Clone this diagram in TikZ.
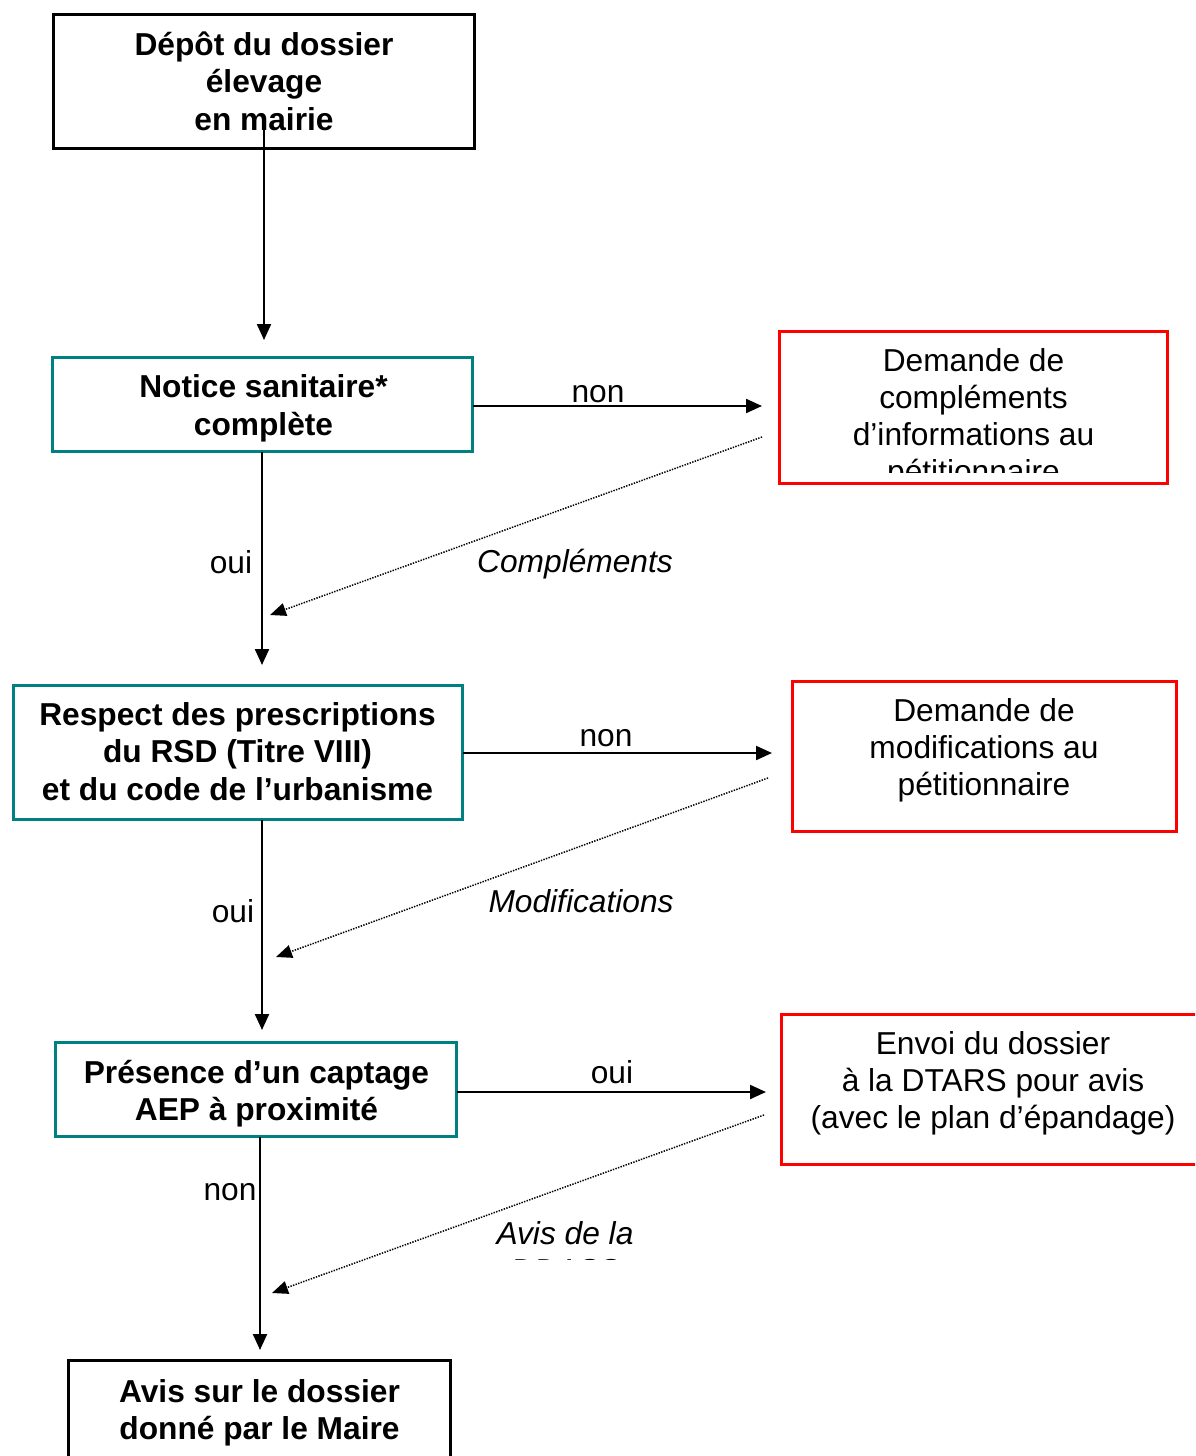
\documentclass[tikz,border=0pt]{standalone}
\usepackage{fontspec}
\setmainfont{Liberation Sans}
\usetikzlibrary{arrows.meta}
\definecolor{tealbox}{RGB}{0,128,128}
\definecolor{redbox}{RGB}{255,0,0}
\begin{document}
\begin{tikzpicture}[x=1pt,y=-1pt,
  every node/.style={inner sep=0pt,outer sep=0pt},
  frame/.style={draw=#1,line width=3.2pt,rectangle},
  tline/.style={anchor=base,font=\fontsize{31.7pt}{37pt}\selectfont},
  bline/.style={anchor=base,font=\fontsize{31.7pt}{37pt}\selectfont\bfseries},
  iline/.style={anchor=base,font=\fontsize{31.7pt}{37pt}\selectfont\itshape},
  arr/.style={line width=2.2pt,-{Triangle[length=16pt,width=14pt]}},
  dotarr/.style={line width=1.5pt,dash pattern=on 1.4pt off 1.3pt,-{Triangle[length=16pt,width=13pt]}}]
\clip (0,0) rectangle (1195,1456);
\fill[white] (0,0) rectangle (1195,1456);

% boxes
\node[frame=black,minimum width=421pt,minimum height=134pt] (b1) at (264,81.5) {};
\node[frame=tealbox,minimum width=420pt,minimum height=94pt] (b2) at (262.5,404.5) {};
\node[frame=redbox,minimum width=388pt,minimum height=152pt] (b3) at (973.5,407.5) {};
\node[frame=tealbox,minimum width=449pt,minimum height=134pt] (b4) at (238,752.5) {};
\node[frame=redbox,minimum width=384pt,minimum height=150pt] (b5) at (984.5,756.5) {};
\node[frame=tealbox,minimum width=401pt,minimum height=94pt] (b6) at (256,1089.5) {};
\node[frame=redbox,minimum width=423pt,minimum height=150pt] (b7) at (993,1089.5) {};
\node[frame=black,minimum width=382pt,minimum height=103pt] (b8) at (259.5,1412) {};

% box texts
\node[bline] (t1a) at (264,55) {Dépôt du dossier};
\node[bline] (t1b) at (264,92) {élevage};
\node[bline] (t1c) at (264,130) {en mairie};

\node[bline] (t2a) at (263.5,397) {Notice sanitaire*};
\node[bline] (t2b) at (263.5,435) {complète};

\node[tline] (t3a) at (973.5,371) {Demande de};
\node[tline] (t3b) at (973.5,408) {compléments};
\node[tline] (t3c) at (973.5,445) {d’informations au};
\begin{scope}
\clip (780,450) rectangle (1167,472);
\node[tline] (t3d) at (973.5,482) {pétitionnaire};
\end{scope}

\node[bline] (t4a) at (237.5,725) {Respect des prescriptions};
\node[bline] (t4b) at (237.5,762) {du RSD (Titre VIII)};
\node[bline] (t4c) at (237.5,800) {et du code de l’urbanisme};

\node[tline] (t5a) at (984,721) {Demande de};
\node[tline] (t5b) at (984,758) {modifications au};
\node[tline] (t5c) at (984,795) {pétitionnaire};

\node[bline] (t6a) at (256.5,1083) {Présence d’un captage};
\node[bline] (t6b) at (256.5,1120) {AEP à proximité};

\node[tline] (t7a) at (993,1054) {Envoi du dossier};
\node[tline] (t7b) at (993,1091) {à la DTARS pour avis};
\node[tline] (t7c) at (993,1128) {(avec le plan d’épandage)};

\node[bline] (t8a) at (259.5,1402) {Avis sur le dossier};
\node[bline] (t8b) at (259.5,1439) {donné par le Maire};

% connector end points
\coordinate (a1s) at (264,125);
\coordinate (a1e) at (264,340);
\coordinate (a2e) at (762,406);
\coordinate (d1s) at (762,437);
\coordinate (d1e) at (270,615);
\coordinate (a3e) at (262,665);
\coordinate (a4e) at (772,753);
\coordinate (d2s) at (768,778);
\coordinate (d2e) at (276,957);
\coordinate (a5e) at (262,1030);
\coordinate (a6e) at (766,1092);
\coordinate (d3s) at (764,1115);
\coordinate (d3e) at (272,1293);
\coordinate (a7e) at (260,1350);

\draw[arr] (a1s) -- (a1e);
\draw[arr] (b2.east |- a2e) -- (a2e);
\draw[dotarr] (d1s) -- (d1e);
\draw[arr] (b2.south -| a3e) -- (a3e);
\draw[arr] (b4.east |- a4e) -- (a4e);
\draw[dotarr] (d2s) -- (d2e);
\draw[arr] (b4.south -| a5e) -- (a5e);
\draw[arr] (b6.east |- a6e) -- (a6e);
\draw[dotarr] (d3s) -- (d3e);
\draw[arr] (b6.south -| a7e) -- (a7e);

% connector labels
\node[tline] (l1) at (598,402) {non};
\node[tline] (l2) at (231,573) {oui};
\node[iline] (l3) at (575,572) {Compléments};
\begin{scope}
\clip (450,560) rectangle (720,588);
\node[iline] (l3b) at (575,609) {reçus};
\end{scope}
\node[tline] (l4) at (606,746) {non};
\node[tline] (l5) at (233,922) {oui};
\node[iline] (l6) at (581,912) {Modifications};
\begin{scope}
\clip (450,900) rectangle (720,928);
\node[iline] (l6b) at (581,949) {reçues};
\end{scope}
\node[tline] (l7) at (612,1083) {oui};
\node[tline] (l8) at (230,1200) {non};
\node[iline] (l9) at (565,1244) {Avis de la};
\begin{scope}
\clip (450,1230) rectangle (720,1259);
\node[iline] (l9b) at (565,1281) {DDASS};
\end{scope}
\end{tikzpicture}
\end{document}
